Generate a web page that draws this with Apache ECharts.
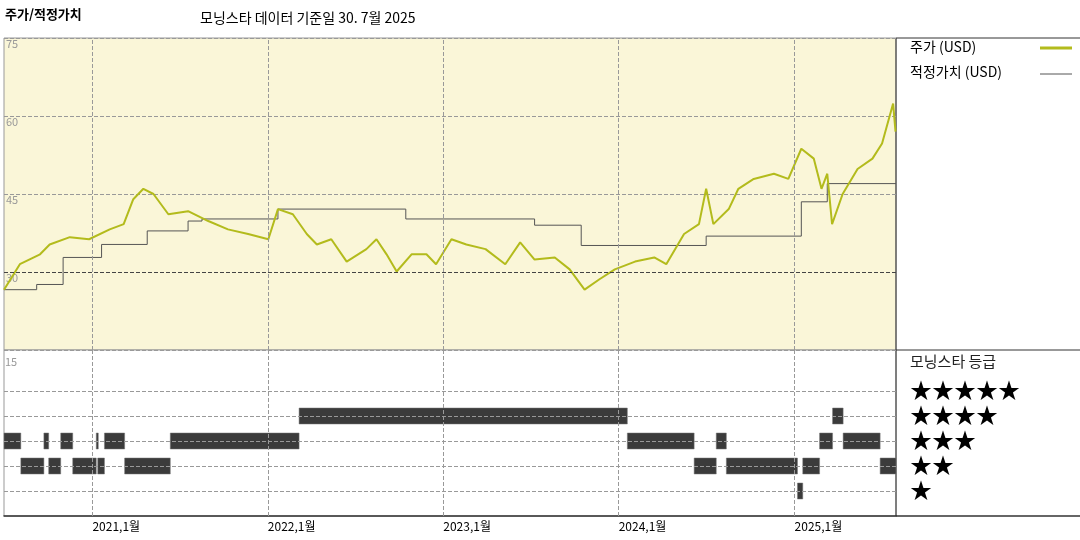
<!DOCTYPE html>
<html><head><meta charset="utf-8">
<script src="https://cdn.jsdelivr.net/npm/echarts@6/dist/echarts.min.js"></script>
<style>html,body{margin:0;padding:0;background:#fff}#main{width:1080px;height:540px}</style>
</head><body><div id="main"></div>
<script>
// 주가 데이터
var priceDates = ['2020-07-01','2020-08-03','2020-09-14','2020-10-04','2020-11-15','2020-12-25','2021-02-06','2021-03-07','2021-03-27','2021-04-17','2021-05-08','2021-06-08','2021-07-19','2021-08-30','2021-10-10','2021-11-21','2022-01-02','2022-01-22','2022-02-22','2022-03-23','2022-04-13','2022-05-13','2022-06-14','2022-07-25','2022-08-15','2022-09-05','2022-09-26','2022-10-27','2022-11-27','2022-12-17','2023-01-18','2023-02-18','2023-03-30','2023-05-10','2023-06-10','2023-07-10','2023-08-21','2023-09-21','2023-10-22','2023-11-22','2023-12-24','2024-02-04','2024-03-15','2024-04-09','2024-05-16','2024-06-16','2024-07-01','2024-07-16','2024-08-17','2024-09-06','2024-10-08','2024-11-19','2024-12-19','2025-01-15','2025-02-10','2025-02-26','2025-03-10','2025-03-20','2025-04-11','2025-05-12','2025-06-12','2025-07-02','2025-07-25','2025-07-30']
var priceValues = [26.6,31.5,33.4,35.3,36.7,36.3,38.2,39.2,44,46,45,41.1,41.7,39.8,38.2,37.3,36.3,42.1,41.1,37.3,35.3,36.3,32,34.4,36.3,33.4,30.1,33.4,33.4,31.5,36.3,35.3,34.4,31.5,35.7,32.4,32.8,30.5,26.6,28.6,30.5,32,32.8,31.5,37.3,39.2,46,39.2,42.1,46,47.9,48.9,47.9,53.7,51.8,46,48.9,39.2,45,49.8,51.8,54.7,62.4,57]
// 적정가치 데이터
var fairDates = ['2020-07-01','2020-09-07','2020-11-01','2021-01-20','2021-04-25','2021-07-19','2021-08-17','2022-01-22','2022-10-15','2023-07-10','2023-10-15','2024-07-01','2025-01-15','2025-03-10','2025-07-31']
var fairValues = [26.6,27.6,32.8,35.3,37.9,39.8,40.2,42.1,40.2,39,35.1,36.9,43.5,47,47]
// 모닝스타 등급 구간 [시작, 끝, 등급]
var ratingSegments = [
    ['2020-07-01','2020-08-05',3],['2020-08-05','2020-09-22',2],['2020-09-22','2020-10-02',3],
    ['2020-10-02','2020-10-27',2],['2020-10-27','2020-11-21',3],['2020-11-21','2021-01-09',2],
    ['2021-01-09','2021-01-12',3],['2021-01-12','2021-01-26',2],['2021-01-26','2021-03-09',3],
    ['2021-03-09','2021-06-12',2],['2021-06-12','2022-03-07',3],['2022-03-07','2024-01-19',4],
    ['2024-01-19','2024-06-06',3],['2024-06-06','2024-07-22',2],['2024-07-22','2024-08-12',3],
    ['2024-08-12','2025-01-07',2],['2025-01-07','2025-01-18',1],['2025-01-18','2025-02-22',2],
    ['2025-02-22','2025-03-21',3],['2025-03-21','2025-04-12',4],['2025-04-12','2025-06-28',3],
    ['2025-06-28','2025-07-31',2]
]
var tickDates = ['2020-07-01','2021-01-01','2022-01-01','2023-01-01','2024-01-01','2025-01-01']
var priceTicks = [30,45,60,75]
var ratingLevels = [1,2,3,4,5]

var font = '"Noto Sans CJK KR", sans-serif'
var xMin = '2020-07-01', xMax = '2025-07-31'
var dash = { type: 'dashed', color: '#999', width: 1 }
var vLines = tickDates.slice(1).map(function(d) { return { xAxis: d } })
function tickLabel(d) { var p = d.split('-'); return p[0] + ',' + parseInt(p[1], 10) + '월' }
var labelLines = tickDates.map(function(d, i) {
    return { xAxis: d, lineStyle: i == 0 ? { opacity: 0 } : dash,
             label: { show: true, position: 'start', formatter: tickLabel(d), align: 'left', verticalAlign: 'top',
                      distance: 4, color: '#000', fontSize: 12, fontFamily: font, offset: [0, 0] } }
})

var myChart = echarts.init(document.getElementById('main'))
var option = {
    animation: false,
    textStyle: { fontFamily: font },
    grid: [
        { left: 4, right: 184, top: 38, height: 312, show: true, backgroundColor: '#faf6d8', borderColor: '#999', borderWidth: 1 },
        { left: 4, right: 184, top: 350, height: 166, show: true, backgroundColor: '#fff', borderColor: '#999', borderWidth: 1 }
    ],
    xAxis: [
        { type: 'time', gridIndex: 0, min: xMin, max: xMax, axisLine: { show: false }, axisTick: { show: false }, axisLabel: { show: false }, splitLine: { show: false } },
        { type: 'time', gridIndex: 1, min: xMin, max: xMax, axisLine: { lineStyle: { color: '#333', width: 1.5 } },
          axisTick: { show: false }, axisLabel: { show: false }, splitLine: { show: false } }
    ],
    yAxis: [
        { type: 'value', gridIndex: 0, min: 15, max: 75, interval: 15, axisLine: { show: false }, axisTick: { show: false },
          axisLabel: { inside: true, color: '#999', fontSize: 11, verticalAlign: 'top', margin: 2, formatter: function(v) { return priceTicks.indexOf(v) >= 0 ? v : '' } },
          splitLine: { lineStyle: dash } },
        { type: 'value', gridIndex: 1, min: 0, max: 6.64, axisLine: { show: false }, axisTick: { show: false },
          axisLabel: { show: false }, splitLine: { show: false } }
    ],
    series: [
        { type: 'line', xAxisIndex: 0, yAxisIndex: 0, symbol: 'none', silent: true,
          data: fairDates.map(function(d, i) { return [d, fairValues[i]] }), step: 'end',
          lineStyle: { color: '#555', width: 1 },
          markLine: { symbol: 'none', silent: true, label: { show: false }, lineStyle: dash,
            data: vLines.concat([{ yAxis: 30, lineStyle: { type: 'dashed', color: '#444' } }]) } },
        { type: 'line', xAxisIndex: 0, yAxisIndex: 0, symbol: 'none', silent: true,
          data: priceDates.map(function(d, i) { return [d, priceValues[i]] }),
          lineStyle: { color: '#b3bb1c', width: 2 } },
        { type: 'custom', xAxisIndex: 1, yAxisIndex: 1, silent: true,
          data: ratingSegments,
          encode: { x: [0, 1], y: 2 },
          renderItem: function(params, api) {
              var p0 = api.coord([api.value(0), api.value(2)])
              var p1 = api.coord([api.value(1), api.value(2)])
              return { type: 'rect', shape: { x: p0[0], y: p0[1] - 8, width: Math.max(p1[0] - p0[0], 2), height: 16 },
                       style: { fill: '#3b3b3b', stroke: '#777', lineWidth: 0.5 } }
          },
          markLine: { symbol: 'none', silent: true, label: { show: false }, lineStyle: dash,
            data: labelLines.concat(ratingLevels.map(function(r) { return { yAxis: r } })) } }
    ],
    graphic: [
        { type: 'text', left: 5, top: 8, style: { text: '주가/적정가치', font: 'bold 13px ' + font, fill: '#000' } },
        { type: 'text', left: 200, top: 11, style: { text: '모닝스타 데이터 기준일 30. 7월 2025', font: '14px ' + font, fill: '#000' } },
        { type: 'text', left: 5, top: 356, style: { text: '15', font: '11px ' + font, fill: '#999' } },
        { type: 'line', shape: { x1: 896, y1: 38, x2: 1080, y2: 38 }, style: { stroke: '#333', lineWidth: 1 } },
        { type: 'line', shape: { x1: 896, y1: 38, x2: 896, y2: 516 }, style: { stroke: '#333', lineWidth: 1 } },
        { type: 'line', shape: { x1: 896, y1: 350, x2: 1080, y2: 350 }, style: { stroke: '#333', lineWidth: 1 } },
        { type: 'line', shape: { x1: 896, y1: 516, x2: 1080, y2: 516 }, style: { stroke: '#333', lineWidth: 1.5 } },
        { type: 'text', left: 910, top: 40, style: { text: '주가 (USD)', font: '14px ' + font, fill: '#000' } },
        { type: 'line', shape: { x1: 1040, y1: 48, x2: 1072, y2: 48 }, style: { stroke: '#b3bb1c', lineWidth: 3 } },
        { type: 'text', left: 910, top: 65, style: { text: '적정가치 (USD)', font: '14px ' + font, fill: '#000' } },
        { type: 'line', shape: { x1: 1040, y1: 74, x2: 1072, y2: 74 }, style: { stroke: '#555', lineWidth: 1 } },
        { type: 'text', left: 910, top: 354, style: { text: '모닝스타 등급', font: '15px ' + font, fill: '#222' } },
        { type: 'text', left: 910, top: 379, style: { text: '★★★★★', font: '22px ' + font, fill: '#000' } },
        { type: 'text', left: 910, top: 404, style: { text: '★★★★', font: '22px ' + font, fill: '#000' } },
        { type: 'text', left: 910, top: 429, style: { text: '★★★', font: '22px ' + font, fill: '#000' } },
        { type: 'text', left: 910, top: 454, style: { text: '★★', font: '22px ' + font, fill: '#000' } },
        { type: 'text', left: 910, top: 479, style: { text: '★', font: '22px ' + font, fill: '#000' } }
    ]
}
myChart.setOption(option)
</script>
</body></html>
